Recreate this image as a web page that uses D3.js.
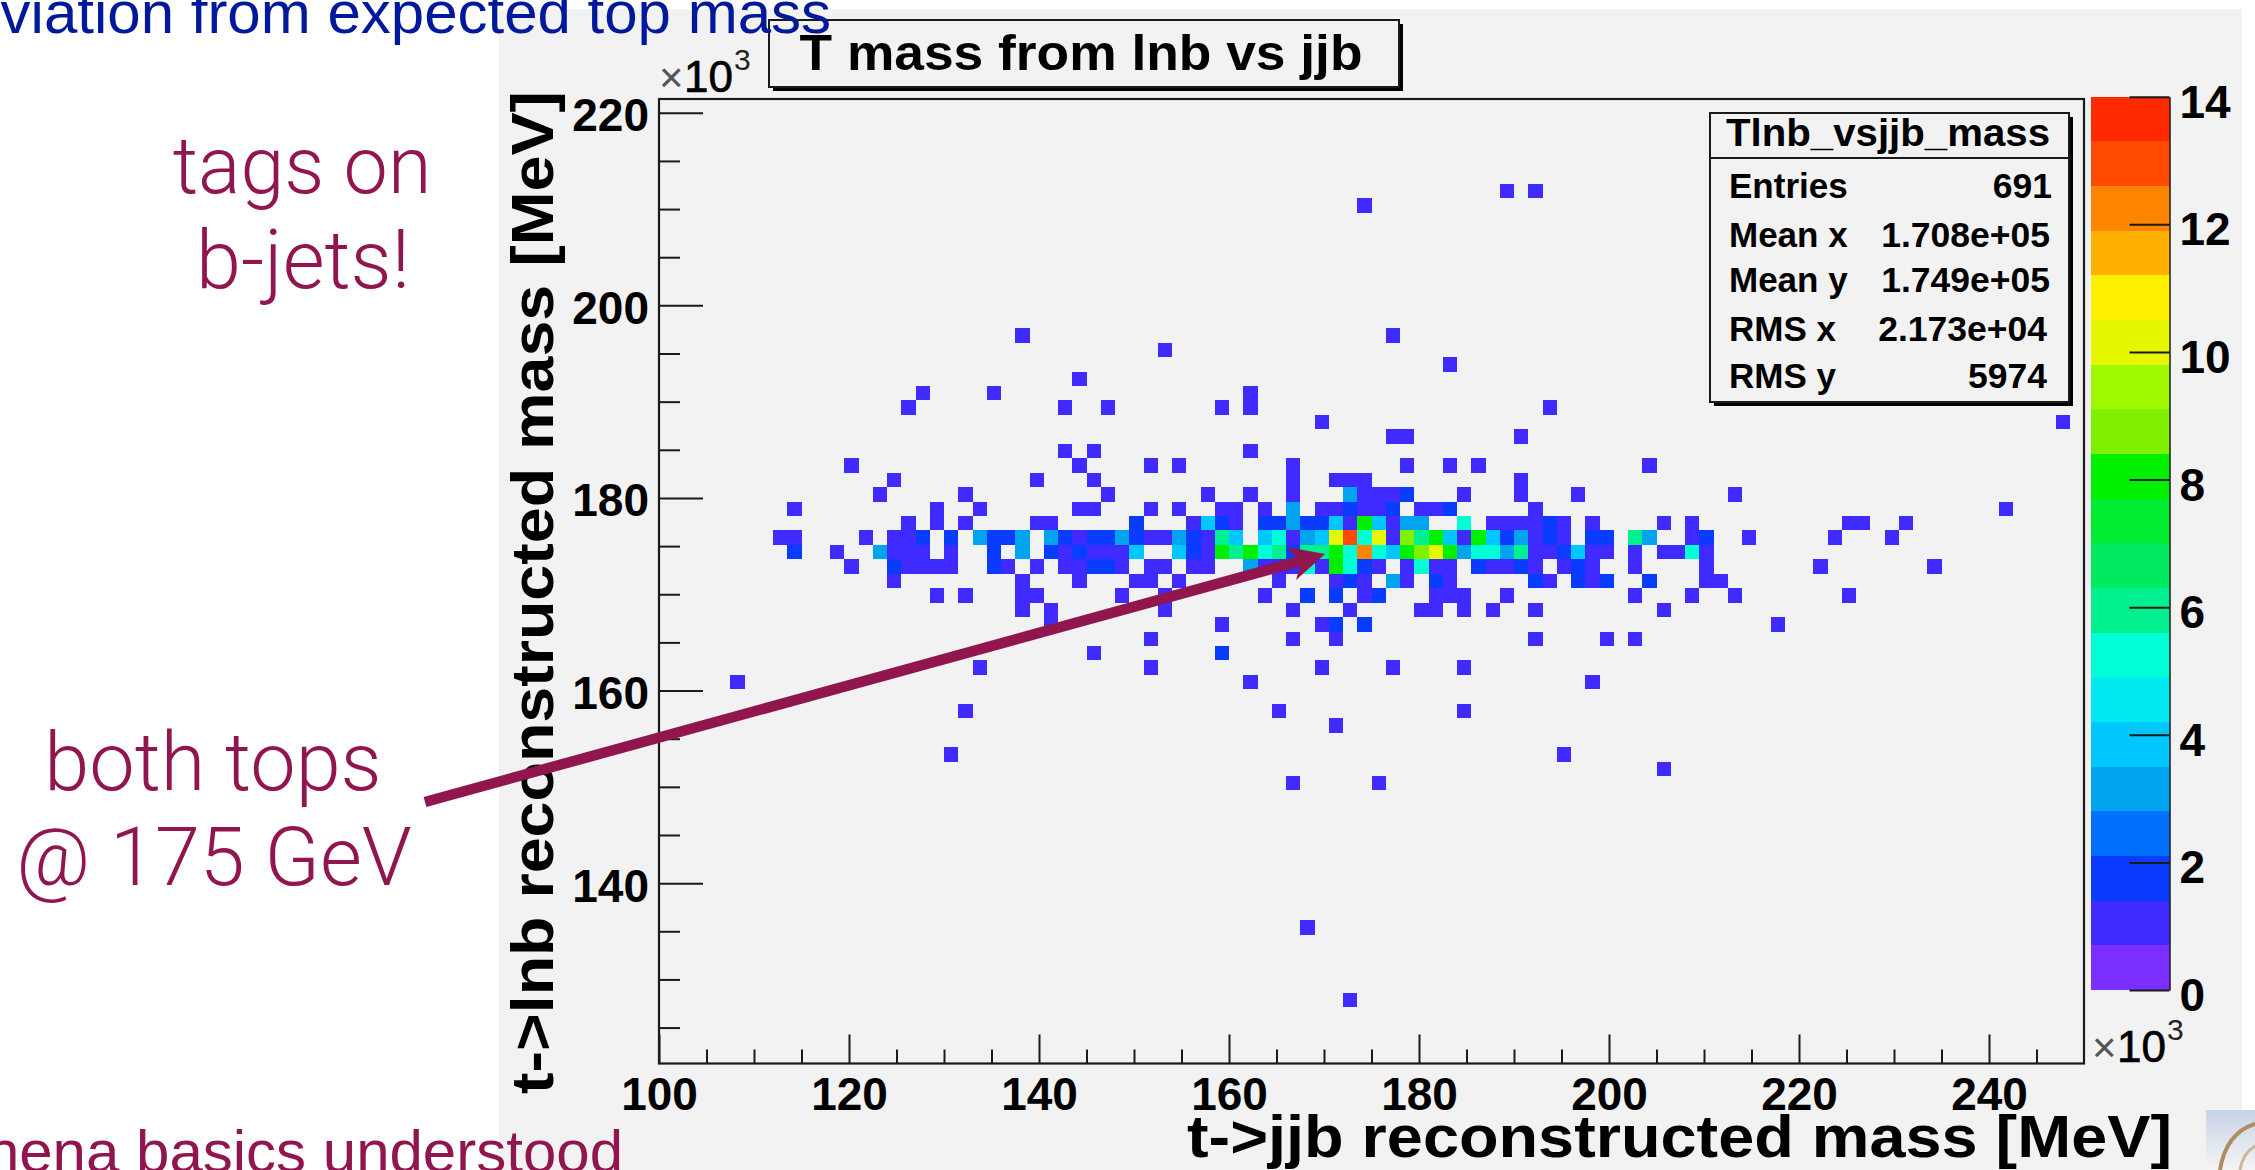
<!DOCTYPE html>
<html><head><meta charset="utf-8">
<style>html,body{margin:0;padding:0;background:#fff;overflow:hidden}svg{display:block}text{font-family:"Liberation Sans",Arial,sans-serif}</style>
<script src="https://cdn.jsdelivr.net/npm/d3@7/dist/d3.min.js"></script>
</head><body>
<script>
// ---- Data ----
const xMajorTicks = [100,120,140,160,180,200,220,240];
const yMajorTicks = [140,160,180,200,220];
const zTicks = [0,2,4,6,8,10,12,14];
const statLabels = ["Entries","Mean x","Mean y","RMS x","RMS y"];
const statValues = ["691","1.708e+05","1.749e+05","2.173e+04","5974"];
const bandColors = ["#7a2eff","#3f2bff","#0a3cff","#0070ff","#00a4ee","#00c8ff","#00e8f0","#00ffd4","#00f090","#00ea60",
  "#00ec30","#00f000","#80f000","#a0f800","#e6f800","#fff000","#ffb000","#ff8400","#ff4a00","#ff2a00"];
// histogram rows: vertical bin number below the main ridge edge, top row first
const rowIndex = [-24,-23,-14,-13,-12,-11,-10,-9,-8,-7,-6,-5,-4,-3,-2,-1,0,1,2,3,4,5,6,7,8,9,10,12,13,15,16,17,27,32];
// per row: horizontal bin number, or [bin, entries] when above one entry
const rowCells = [
 [59,61],
 [49],
 [25,51],
 [35],
 [55],
 [29],
 [18,23,41],
 [17,28,31,39,41,62],
 [46,98],
 [51,52,60],
 [28,30,41],
 [13,29,34,36,44,52,55,57,69],
 [16,26,30,44,47,48,49,60],
 [15,21,31,38,41,44,[48,3],49,50,51,[52,2],56,60,64,75],
 [9,19,22,29,30,34,36,39,40,42,[44,3],46,47,[48,2],49,50,[51,2],53,54,[55,2],61,94],
 [17,19,21,26,27,[33,2],37,[38,4],[39,2],40,[42,2],[43,2],[44,3],[45,2],[46,2],[47,4],48,[49,8],[50,4],51,[52,3],[53,3],[56,5],58,59,60,61,[62,2],63,65,70,72,83,84,87],
 [8,9,14,16,17,[18,2],[20,2],[22,3],[23,2],[24,2],[25,3],[27,3],[28,2],29,[30,2],[31,2],[32,3],[33,2],34,35,[36,3],[37,2],38,[39,6],[40,4],[42,4],[43,5],44,[45,3],[46,4],[47,10],[48,13],[49,5],[50,10],51,[52,9],[53,6],[54,8],[55,4],56,[57,8],[58,4],[59,2],[60,3],61,[62,2],63,[65,2],[66,2],[68,6],[69,3],72,[73,2],76,82,86],
 [[9,2],12,[15,3],16,17,18,20,[23,2],[25,3],[27,2],28,[29,2],30,31,32,[33,4],[36,4],[37,2],38,[39,8],[40,6],[41,8],[42,5],[43,6],[44,2],[45,6],[46,6],[47,8],[48,5],[49,12],[50,5],[51,4],[52,8],[53,9],[54,10],[55,8],[56,3],[57,5],[58,5],[59,3],[60,6],61,62,[63,2],[64,4],65,66,68,70,71,[72,5],73],
 [13,[16,2],17,18,19,20,[23,2],24,26,28,29,[30,2],[31,2],32,34,35,37,38,[41,3],42,43,44,[45,5],46,[47,8],[48,5],[49,2],50,52,[53,5],54,55,[57,2],58,59,[60,2],61,63,[64,2],65,68,73,81,89],
 [16,25,29,33,34,36,43,47,[48,2],49,[51,3],52,[54,2],55,[61,2],62,[64,2],65,[66,2],[69,2],73,74],
 [19,21,25,26,32,35,42,[45,2],[47,2],49,[50,2],54,55,56,59,68,72,75,83],
 [25,27,35,44,48,53,54,56,58,61,70],
 [27,39,46,[47,2],[49,2],78],
 [34,44,47,61,66,68],
 [30,[39,2]],
 [22,34,46,51,56],
 [5,41,65],
 [21,43,56],
 [47],
 [20,63],
 [70],
 [44,50],
 [45],
 [48]
];
const binWidth = 1.5, ridgeEdge = 176.63;

// ---- Layout ----
const W=2255,H=1170;
const plot={l:659,r:2084,t:99,b:1063.5};
const bar={l:2091,r:2169.5,t:96.7,b:990};
const ink="#1a1a1a", wine="#91164f";

const svg=d3.select("body").append("svg").attr("width",W).attr("height",H).attr("viewBox",`0 0 ${W} ${H}`);
svg.append("rect").attr("width",W).attr("height",H).attr("fill","#fff");
svg.append("rect").attr("x",499).attr("y",9).attr("width",2242-499).attr("height",H-9).attr("fill","#f2f2f2");

const xS=d3.scaleLinear().domain([100,250]).range([plot.l,plot.r]);
const yS=d3.scaleLinear().domain([121.27,221.43]).range([plot.b,plot.t]);
const zS=d3.scaleLinear().domain([0,14]).range([bar.b,bar.t]);
const color=d3.scaleQuantize().domain([0,14]).range(bandColors);

// cells
const cells=[];
rowCells.forEach((row,i)=>row.forEach(c=>{
  const [bin,n]=Array.isArray(c)?c:[c,1];
  cells.push({bin,n,k:rowIndex[i]});
}));
svg.append("g").attr("shape-rendering","crispEdges").selectAll("rect").data(cells).join("rect")
  .attr("x",d=>xS(100+binWidth*d.bin))
  .attr("width",d=>xS(100+binWidth*(d.bin+1))-xS(100+binWidth*d.bin))
  .attr("y",d=>yS(ridgeEdge-binWidth*d.k))
  .attr("height",d=>yS(ridgeEdge-binWidth*(d.k+1))-yS(ridgeEdge-binWidth*d.k))
  .attr("fill",d=>color(d.n));

// frame
svg.append("rect").attr("x",plot.l).attr("y",plot.t).attr("width",plot.r-plot.l).attr("height",plot.b-plot.t)
  .attr("fill","none").attr("stroke",ink).attr("stroke-width",2.2);

// axes (ticks inside, every 5, long at every 20)
const xTickVals=d3.range(105,250,5).concat([100]);
const gx=svg.append("g").attr("transform",`translate(0,${plot.b})`).call(
  d3.axisBottom(xS).tickValues(xTickVals).tickSize(0).tickFormat(d=>xMajorTicks.includes(d)?d:""));
gx.select(".domain").remove();
gx.selectAll("line").attr("y2",d=>xMajorTicks.includes(d)?-29:-14).attr("stroke",ink).attr("stroke-width",2);
gx.selectAll("text").attr("y",46.5).attr("dy",0).attr("font-size",46).attr("font-weight",700).attr("fill","#000")
  .style("font-family",'"Liberation Sans"');
const yTickVals=d3.range(125,225,5);
const gy=svg.append("g").attr("transform",`translate(${plot.l},0)`).call(
  d3.axisLeft(yS).tickValues(yTickVals).tickSize(0).tickFormat(d=>yMajorTicks.includes(d)?d:""));
gy.select(".domain").remove();
gy.selectAll("line").attr("x2",d=>yMajorTicks.includes(d)?44:21).attr("stroke",ink).attr("stroke-width",2);
gy.selectAll("text").attr("x",-10).attr("dy",18).attr("font-size",46).attr("font-weight",700).attr("fill","#000")
  .style("font-family",'"Liberation Sans"');

// colour bar
svg.append("g").attr("shape-rendering","crispEdges").selectAll("rect").data(bandColors).join("rect")
  .attr("x",bar.l).attr("width",bar.r-bar.l)
  .attr("y",(d,i)=>zS((i+1)*0.7)).attr("height",(d,i)=>zS(i*0.7)-zS((i+1)*0.7)).attr("fill",d=>d);
const gz=svg.append("g").attr("transform",`translate(${bar.r},0)`).call(d3.axisRight(zS).tickValues(zTicks).tickSize(0));
gz.select(".domain").attr("stroke",ink).attr("stroke-width",1.5);
gz.selectAll("line").attr("x2",-40).attr("stroke",ink).attr("stroke-width",2);
gz.selectAll("text").attr("x",10).attr("dy",20.5).attr("font-size",46).attr("font-weight",700).attr("fill","#000")
  .style("font-family",'"Liberation Sans"');

// axis titles
svg.append("text").attr("x",2172).attr("y",1157).attr("text-anchor","end").attr("font-size",60).attr("font-weight",700)
  .attr("textLength",985).attr("lengthAdjust","spacingAndGlyphs").text("t->jjb reconstructed mass [MeV]");
svg.append("text").attr("transform","translate(553,1094) rotate(-90)").attr("font-size",60).attr("font-weight",700)
  .attr("textLength",1003).attr("lengthAdjust","spacingAndGlyphs").text("t->lnb reconstructed mass [MeV]");

// x10^3 labels
function timesTen(x,y,supX,supY){
  const g=svg.append("g");
  g.append("text").attr("x",x).attr("y",y).attr("font-size",42).attr("fill","#555").text("×");
  g.append("text").attr("x",x+25).attr("y",y).attr("font-size",44).attr("fill","#000").attr("stroke","#000").attr("stroke-width",0.7).text("10");
  g.append("text").attr("x",supX).attr("y",supY).attr("font-size",30).attr("fill","#222").text("3");
}
timesTen(659,92,734,70);
timesTen(2092,1062,2167,1040);

// title box
function pave(x,y,w,h,s){
  svg.append("rect").attr("x",x+s).attr("y",y+s).attr("width",w).attr("height",h).attr("fill","#000");
  svg.append("rect").attr("x",x).attr("y",y).attr("width",w).attr("height",h).attr("fill","#f2f2f2").attr("stroke",ink).attr("stroke-width",2);
}
pave(769,20,630,67,4);
svg.append("text").attr("x",1081).attr("y",70).attr("text-anchor","middle").attr("font-size",50).attr("font-weight",700)
  .attr("textLength",563).attr("lengthAdjust","spacingAndGlyphs").text("T mass from lnb vs jjb");

// stats box
pave(1710,113,359,289,4);
svg.append("line").attr("x1",1710).attr("x2",2069).attr("y1",158).attr("y2",158).attr("stroke",ink).attr("stroke-width",2);
svg.append("text").attr("x",1888).attr("y",146).attr("text-anchor","middle").attr("font-size",38).attr("font-weight",700)
  .attr("textLength",324).attr("lengthAdjust","spacingAndGlyphs").text("Tlnb_vsjjb_mass");
const statY=[198,247,292,341,388];
const statRight=[2052,2050,2050,2047,2047];
statLabels.forEach((s,i)=>{
  svg.append("text").attr("x",1729).attr("y",statY[i]).attr("font-size",35).attr("font-weight",700).text(s);
  svg.append("text").attr("x",statRight[i]).attr("y",statY[i]).attr("text-anchor","end").attr("font-size",35.5).attr("font-weight",700).text(statValues[i]);
});

// slide annotations
function light(t,x,y,size,anchor,fill){
  return svg.append("text").attr("x",x).attr("y",y).attr("text-anchor",anchor).attr("font-size",size).attr("fill",fill)
    .style("font-family",'Roboto,"Liberation Sans"').attr("font-weight",300).text(t);
}
light("tags on",302,193,79,"middle",wine);
light("b-jets!",303,288,81,"middle",wine);
light("both tops",213,790,81,"middle",wine);
light("@ 175 GeV",214,885,81,"middle",wine);

svg.append("text").attr("x",831).attr("y",33).attr("text-anchor","end").attr("font-size",60).attr("fill","#00189a").text("viation from expected top mass");
svg.append("text").attr("x",623).attr("y",1172).attr("text-anchor","end").attr("font-size",60).attr("fill",wine).text("hena basics understood");

// arrow
const tip=[1325,554], tail=[425,802];
svg.append("line").attr("x1",tail[0]).attr("y1",tail[1]).attr("x2",1302).attr("y2",560.5).attr("stroke",wine).attr("stroke-width",10.5);
svg.append("path").attr("d",`M${tip} L1287,547 L1301,563 L1296,580 Z`).attr("fill",wine);

// small picture in the corner
const defs=svg.append("defs");
const gr=defs.append("linearGradient").attr("id","pic").attr("x1",0).attr("y1",0).attr("x2",0).attr("y2",1);
gr.append("stop").attr("offset",0).attr("stop-color","#c6d4e6");
gr.append("stop").attr("offset",1).attr("stop-color","#f4f4f2");
svg.append("rect").attr("x",2206).attr("y",1110).attr("width",49).attr("height",60).attr("fill","url(#pic)");
svg.append("path").attr("d","M2220,1170 C2224,1145 2236,1130 2255,1124").attr("fill","none").attr("stroke","#b08d60").attr("stroke-width",4);
svg.append("path").attr("d","M2240,1170 C2242,1158 2248,1150 2255,1146").attr("fill","none").attr("stroke","#c9b79a").attr("stroke-width",3);
</script>
</body></html>
